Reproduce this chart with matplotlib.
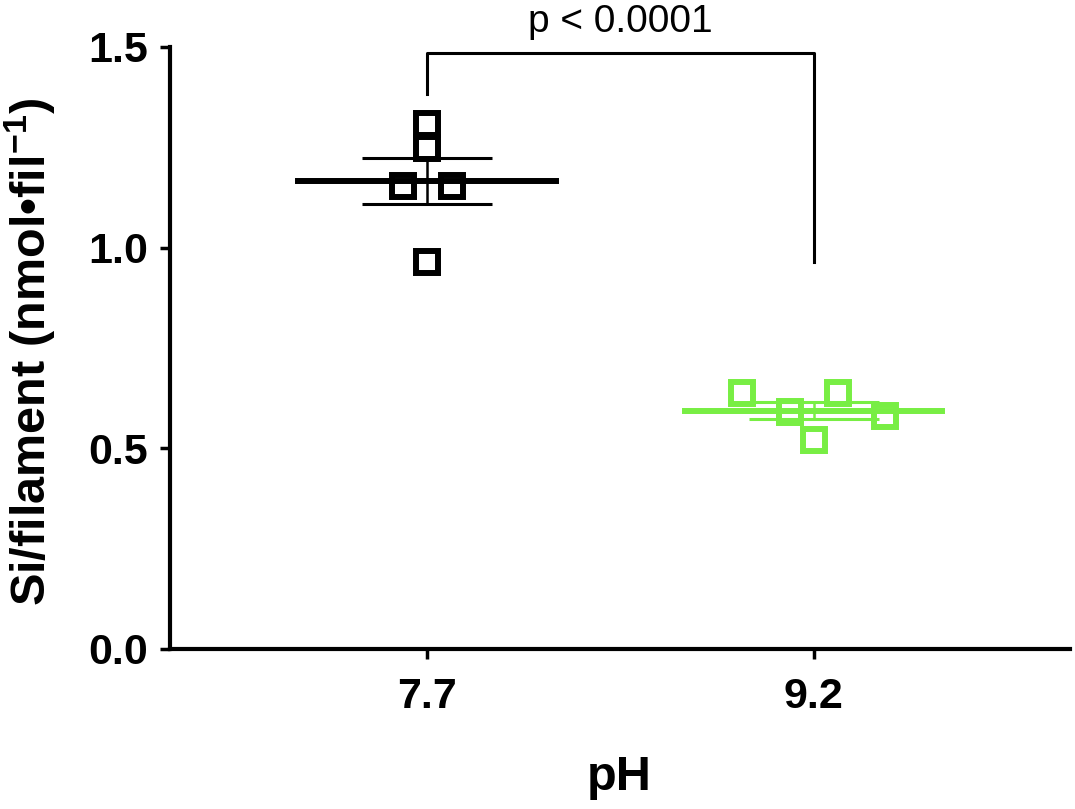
# Si per filament at two pH values: scatter with mean and SEM
import numpy as np
import matplotlib
matplotlib.use('Agg')
import matplotlib.pyplot as plt

plt.rcParams['font.family'] = ['Liberation Sans', 'DejaVu Sans']
plt.rcParams['mathtext.fontset'] = 'custom'
plt.rcParams['mathtext.rm'] = 'Liberation Sans'
plt.rcParams['mathtext.bf'] = 'Liberation Sans:bold'

# data
groups = ['7.7', '9.2']
si_77 = [1.308, 1.248, 1.154, 1.154, 0.964]
si_92 = [0.638, 0.591, 0.638, 0.521, 0.581]
spread_77 = [0.0, 0.0, -0.06, 0.065, 0.0]       # horizontal scatter of points
spread_92 = [-0.186, -0.062, 0.062, 0.0, 0.186]
p_text = 'p < 0.0001'

black = 'black'
green = '#78EE44'

fig = plt.figure(figsize=(10.75, 8.09), dpi=100)
ax = fig.add_axes([0.158, 0.198, 0.837, 0.744])

for i, (vals, dx, col) in enumerate([(si_77, spread_77, black),
                                     (si_92, spread_92, green)]):
    vals = np.array(vals)
    m = vals.mean()
    sem = vals.std(ddof=1) / np.sqrt(len(vals))
    ax.plot(i + np.array(dx), vals, 's', ms=16.5, mew=4.3,
            mfc='none', mec=col, zorder=3)
    ax.plot([i - 0.333, i + 0.333], [m, m], color=col, lw=4.3, zorder=4)
    ax.errorbar(i, m, yerr=sem, color=col, lw=1.8, capsize=47,
                capthick=2.2, zorder=4)

# significance bracket
ax.plot([0, 0, 1, 1], [1.383, 1.485, 1.485, 0.964], color='black',
        lw=2.2, clip_on=False)
ax.text(0.5, 1.562, p_text, ha='center', va='center', fontsize=28)

ax.set_xlim(-0.664, 1.662)
ax.set_ylim(0, 1.5)
ax.set_xticks([0, 1])
ax.set_xticklabels(groups)
ax.set_yticks([0, 0.5, 1.0, 1.5])
ax.set_yticklabels(['0.0', '0.5', '1.0', '1.5'])

for s in ['top', 'right']:
    ax.spines[s].set_visible(False)
for s in ['left', 'bottom']:
    ax.spines[s].set_linewidth(3.0)

ax.tick_params(axis='both', width=2.5, length=7, labelsize=31)
ax.tick_params(axis='y', pad=9)
ax.tick_params(axis='x', pad=13)
for lab in ax.get_xticklabels() + ax.get_yticklabels():
    lab.set_fontweight('bold')

ax.set_ylabel(r'Si/filament (nmol•fil$\mathbf{^{-1}}$)', fontsize=35,
              fontweight='bold')
ax.yaxis.set_label_coords(-0.124, 0.493)
ax.set_xlabel('pH', fontsize=35, fontweight='bold', labelpad=28)

fig.savefig('out.png', dpi=100)
